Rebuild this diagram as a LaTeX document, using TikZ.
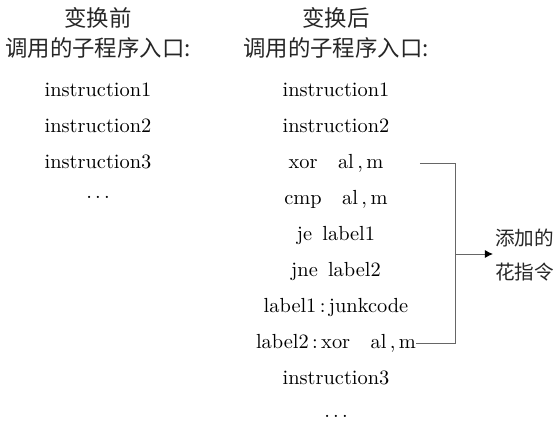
\documentclass[tikz,border=0pt]{standalone}
\usepackage{fontspec}
\newfontfamily\cjkfont{Noto Sans CJK SC}
\usetikzlibrary{arrows.meta}
\usepackage{xcolor}

\newcommand{\codedots}{.\kern1.6pt.\kern1.6pt.}

\tikzset{
	code/.style={font=\fontsize{10.2}{12}\selectfont, inner sep=0pt, text height=7pt, text depth=2pt},
	head/.style={font=\cjkfont\fontsize{11.2}{13}\selectfont, inner sep=0pt, text=black!85},
	side/.style={font=\cjkfont\fontsize{9.8}{17}\selectfont, inner sep=1pt, align=left, anchor=west, text=black!85},
	bracket/.style={black!60, line width=0.5pt}
}

\begin{document}
\begin{tikzpicture}[x=0.5pt,y=-0.5pt]
	\useasboundingbox (0,0) rectangle (559,429);
	% before
	\node [head] (pretitle) at (98,18) {变换前};
	\node [head] (prehead) at (98,48) {调用的子程序入口:};
	\node [code] (pre1) at (98,91) {instruction1};
	\node [code] (pre2) at (98,127) {instruction2};
	\node [code] (pre3) at (98,163) {instruction3};
	\node [code] (predots) at (98,193) {\codedots};
	% after
	\node [head] (posttitle) at (336,18) {变换后};
	\node [head] (posthead) at (336,48) {调用的子程序入口:};
	\node [code] (post1) at (336,91) {instruction1};
	\node [code] (post2) at (336,127) {instruction2};
	\node [code] (xor) at (336,163) {xor\quad al\,,\,m};
	\node [code] (cmp) at (336,199) {cmp\quad al\,,\,m};
	\node [code] (je) at (336,235) {je\enspace label1};
	\node [code] (jne) at (336,271) {jne\enspace label2};
	\node [code] (lab1) at (336,307) {label1\,:\,junkcode};
	\node [code] (lab2) at (336,343) {label2\,:\,xor\quad al\,,\,m};
	\node [code] (post3) at (336,379) {instruction3};
	\node [code] (postdots) at (336,412) {\codedots};
	% junk code bracket
	\node [side] (junk) at (493,255) {添加的\\花指令};
	\coordinate (xorend) at (420,163);
	\coordinate (top) at (456,163);
	\coordinate (bot) at (456,343);
	\coordinate (mid) at (456,254);
	\draw [bracket] (xorend) -- (top) -- (bot) -- (lab2.east);
	\draw [bracket,-{Latex[length=4pt,width=4pt,black]}] (mid) -- (junk.west |- mid);
\end{tikzpicture}
\end{document}
